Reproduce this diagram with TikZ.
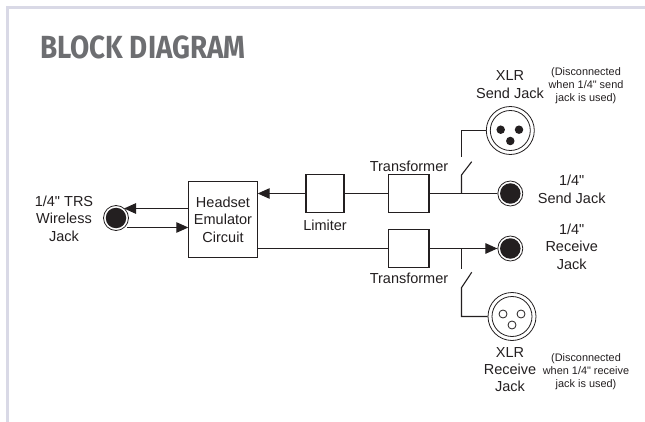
\documentclass[tikz,border=0pt]{standalone}
\usepackage{fontspec}
\setmainfont[Ligatures=TeXOff]{Liberation Sans}
\newfontfamily\titlefont{Fira Sans}
\usetikzlibrary{arrows.meta}
\definecolor{ink}{HTML}{231F20}
\definecolor{rule}{HTML}{D9D9E6}
\definecolor{titlegray}{HTML}{6D6E71}
\tikzset{
  wire/.style={draw=ink,line width=1.1pt},
  arrowwire/.style={wire,-{Triangle[length=12pt,width=10.5pt]}},
  blockbox/.style={draw=ink,line width=1.1pt,fill=white,inner sep=0pt,minimum width=#1},
  lab/.style={text=ink,inner sep=0pt,align=center,font=\fontsize{14.5}{17.4}\selectfont},
  small/.style={text=ink,inner sep=0pt,align=center,font=\fontsize{10.9}{13}\selectfont},
  jackring/.style={circle,draw=ink,fill=white,line width=.8pt,minimum size=25pt,inner sep=0pt},
  jackcore/.style={circle,fill=ink,minimum size=20.5pt,inner sep=0pt},
  xlrouter/.style={circle,draw=ink,fill=white,line width=.8pt,minimum size=48pt,inner sep=0pt},
  xlrinner/.style={circle,draw=ink,line width=.8pt,minimum size=40pt,inner sep=0pt},
  pinfull/.style={circle,fill=ink,minimum size=8.5pt,inner sep=0pt},
  pinopen/.style={circle,draw=ink,fill=white,line width=.8pt,minimum size=8pt,inner sep=0pt},
}
\begin{document}
\begin{tikzpicture}[x=1pt,y=-1pt]
\useasboundingbox (0,0) rectangle (645,422);
\draw[rule,line width=2.6pt] (7.3,422) -- (7.3,7.3) -- (645,7.3);
\node[anchor=base west,inner sep=0pt,text=titlegray,xscale=.87] (title) at (40,59) {\titlefont\bfseries\fontsize{32}{32}\selectfont BLOCK DIAGRAM};

% blocks
\node[blockbox=68.3pt,minimum height=75.6pt] (head) at (223,219.5) {};
\node[blockbox=38pt,minimum height=37.6pt] (lim) at (325,193.5) {};
\node[blockbox=40.3pt,minimum height=37.6pt] (xfs) at (408.8,193.5) {};
\node[blockbox=40.3pt,minimum height=37.6pt] (xfr) at (408.8,248.5) {};

% jacks
\node[jackring] (trs) at (116,218) {};
\node[jackcore] (trscore) at (trs.center) {};
\node[jackring] (sendj) at (510.3,193.5) {};
\node[jackcore] (sendcore) at (sendj.center) {};
\node[jackring] (recvj) at (510.3,248.5) {};
\node[jackcore] (recvcore) at (recvj.center) {};
\node[xlrouter] (xlrs) at (510.3,130.5) {};
\node[xlrinner] (xlrsi) at (xlrs.center) {};
\node[pinfull] (ps1) at (500.7,129.7) {};
\node[pinfull] (ps2) at (519,129.7) {};
\node[pinfull] (ps3) at (510.3,141) {};
\node[xlrouter] (xlrr) at (512,316.5) {};
\node[xlrinner] (xlrri) at (xlrr.center) {};
\node[pinopen] (pr1) at (503,314) {};
\node[pinopen] (pr2) at (521,314) {};
\node[pinopen] (pr3) at (512,325) {};

% junction and switch points
\coordinate (trsout) at (124,208.5);
\coordinate (trsin) at (126.5,227.5);
\coordinate (sj) at (461.5,193.5);
\coordinate (sa) at (461.5,175);
\coordinate (sb) at (471.7,161.7);
\coordinate (sc) at (461.5,156.7);
\coordinate (rj) at (461.5,248.5);
\coordinate (ra) at (461.5,269.3);
\coordinate (rb) at (471.7,272.3);
\coordinate (rc) at (461.5,287.7);

% connectors
\draw[wire] (xfs.west) -- (lim.east);
\draw[arrowwire] (lim.west) -- (lim.west -| head.east);
\draw[arrowwire] (trsout -| head.west) -- (trsout);
\draw[arrowwire] (trsin) -- (trsin -| head.west);
\draw[wire] (xfs.east) -- (sendj.west);
\draw[wire] (sj) -- (sa) -- (sb);
\draw[wire] (sc) |- (xlrs.west);
\draw[wire] (xfr.west -| head.east) -- (xfr.west);
\draw[arrowwire] (xfr.east) -- (recvj.west);
\draw[wire] (rj) -- (ra);
\draw[wire] (rb) -- (rc) |- (xlrr.west);

% labels
\node[lab] (trslab) at (64,218.5) {1/4" TRS\\Wireless\\Jack};
\node[lab] (headlab) at (223,219.5) {Headset\\Emulator\\Circuit};
\node[lab] (limlab) at (325,225.5) {Limiter};
\node[lab] (xfslab) at (409,166) {Transformer};
\node[lab] (xfrlab) at (409,278) {Transformer};
\node[lab] (xlrslab) at (510,84.5) {XLR\\Send Jack};
\node[small] (snotes) at (586,85.5) {(Disconnected\\when 1/4" send\\jack is used)};
\node[lab] (sendlab) at (571.7,189.5) {1/4"\\Send Jack};
\node[lab] (recvlab) at (571.7,246.5) {1/4"\\Receive\\Jack};
\node[lab] (xlrrlab) at (510,369.5) {XLR\\Receive\\Jack};
\node[small] (rnotes) at (586,372) {(Disconnected\\when 1/4" receive\\jack is used)};
\end{tikzpicture}
\end{document}
